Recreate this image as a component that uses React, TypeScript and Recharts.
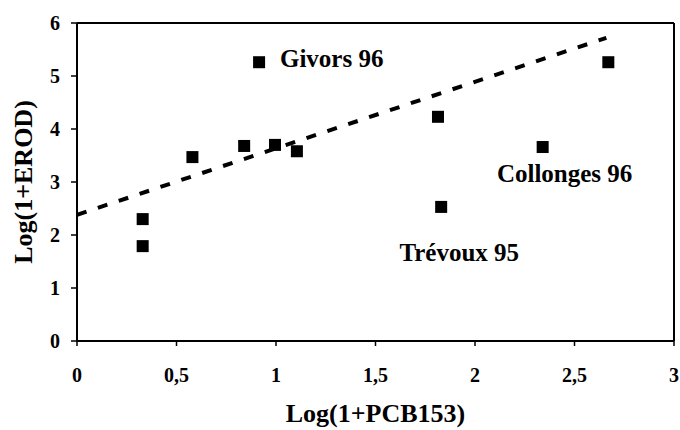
import React from "react";
import {
  ScatterChart,
  Scatter,
  XAxis,
  YAxis,
  ReferenceLine,
} from "recharts";

const sitePoints = [
  { x: 0.33, y: 2.3 },
  { x: 0.33, y: 1.79 },
  { x: 0.58, y: 3.47 },
  { x: 0.84, y: 3.68 },
  { x: 0.995, y: 3.7 },
  { x: 1.105, y: 3.58 },
  { x: 0.915, y: 5.26 },
  { x: 1.814, y: 4.23 },
  { x: 1.83, y: 2.53 },
  { x: 2.34, y: 3.66 },
  { x: 2.67, y: 5.26 },
];

const trendLine = [
  { x: 0, y: 2.38 },
  { x: 2.66, y: 5.72 },
];

const siteLabels = [
  { x: 1.02, y: 5.32, text: "Givors 96" },
  { x: 2.11, y: 3.16, text: "Collonges 96" },
  { x: 1.62, y: 1.67, text: "Trévoux 95" },
];

const xTicks = [0, 0.5, 1, 1.5, 2, 2.5, 3];
const yTicks = [0, 1, 2, 3, 4, 5, 6];

const FONT = "Liberation Serif, DejaVu Serif, serif";

const fmt = (v: number) => String(v).replace(".", ",");

const SquareShape = (props: any) => {
  const { cx, cy } = props;
  if (cx == null || cy == null) return null;
  return <rect x={cx - 6} y={cy - 6} width={12} height={12} fill="#000" />;
};

const LabelShape = (props: any) => {
  const { cx, cy, payload } = props;
  if (cx == null || cy == null) return null;
  return (
    <text
      x={cx}
      y={cy}
      dy="0.33em"
      textAnchor="start"
      style={{ fontFamily: FONT, fontWeight: 700, fontSize: 25 }}
      fill="#000"
    >
      {payload.text}
    </text>
  );
};

const NoShape = () => null;

export default function App() {
  const tickStyle = {
    fontFamily: FONT,
    fontWeight: 700,
    fontSize: 20,
    fill: "#000",
  };
  return (
    <div
      style={{
        position: "absolute",
        left: 0,
        top: 0,
        background: "#fff",
        fontFamily: FONT,
      }}
    >
      <ScatterChart
        width={680}
        height={430}
        margin={{ top: 23, right: 6, bottom: 0, left: 0 }}
        style={{ fontFamily: FONT }}
      >
        <XAxis
          type="number"
          dataKey="x"
          domain={[0, 3]}
          ticks={xTicks}
          tickFormatter={fmt}
          allowDataOverflow
          height={89}
          tickSize={5}
          tickMargin={22}
          axisLine={{ stroke: "#000", strokeWidth: 2 }}
          tickLine={{ stroke: "#000", strokeWidth: 1.5 }}
          tick={tickStyle}
          label={{
            value: "Log(1+PCB153)",
            position: "insideBottom",
            offset: 8,
            style: {
              fontFamily: FONT,
              fontWeight: 700,
              fontSize: 26,
              fill: "#000",
            },
          }}
        />
        <YAxis
          type="number"
          dataKey="y"
          domain={[0, 6]}
          ticks={yTicks}
          allowDataOverflow
          width={77}
          tickSize={6}
          tickMargin={11}
          axisLine={{ stroke: "#000", strokeWidth: 2 }}
          tickLine={{ stroke: "#000", strokeWidth: 1.5 }}
          tick={tickStyle}
          label={{
            value: "Log(1+EROD)",
            angle: -90,
            position: "insideLeft",
            offset: 23,
            style: {
              fontFamily: FONT,
              fontWeight: 700,
              fontSize: 26,
              fill: "#000",
              textAnchor: "middle",
            },
          }}
        />
        <ReferenceLine y={6} stroke="#000" strokeWidth={2} />
        <ReferenceLine x={3} stroke="#000" strokeWidth={2} />
        <Scatter
          data={trendLine}
          line={{ stroke: "#000", strokeWidth: 4, strokeDasharray: "10 12" }}
          shape={NoShape}
          isAnimationActive={false}
          legendType="none"
        />
        <Scatter
          data={sitePoints}
          shape={SquareShape}
          isAnimationActive={false}
        />
        <Scatter
          data={siteLabels}
          shape={LabelShape}
          isAnimationActive={false}
          legendType="none"
        />
      </ScatterChart>
    </div>
  );
}
